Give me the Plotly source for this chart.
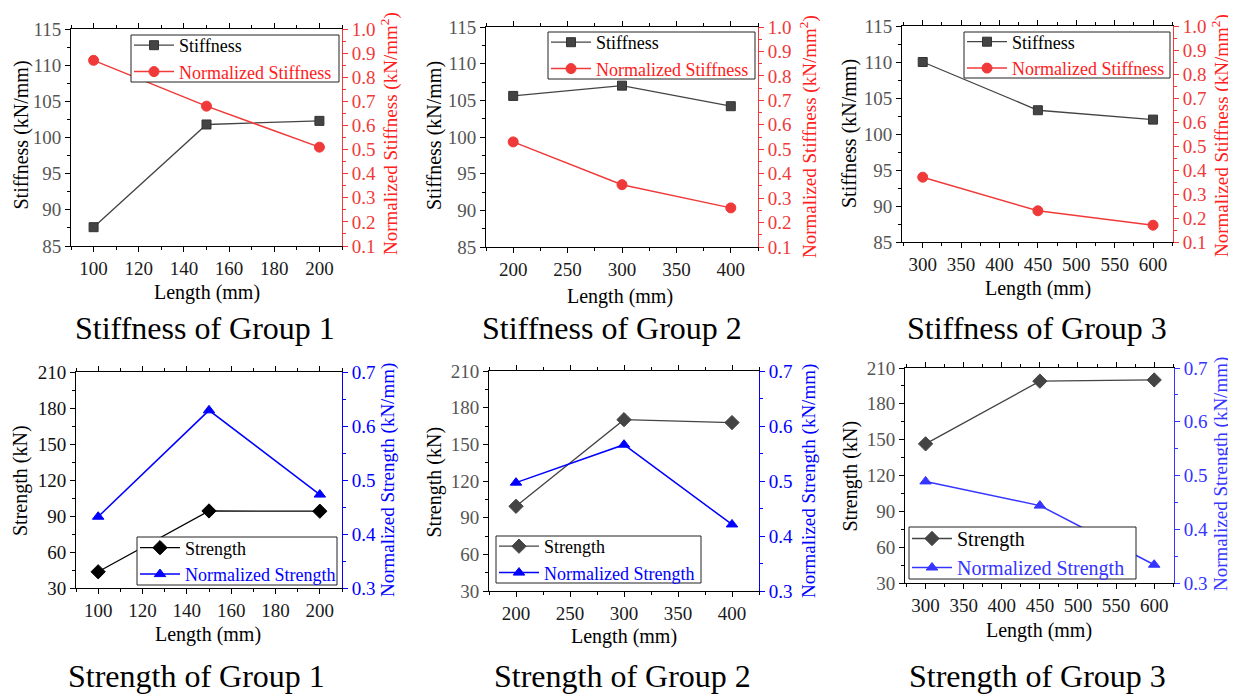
import plotly.graph_objects as go

# The page body has an 8 px margin, so the figure is drawn 8 px in from the
# top-left corner; positions below are given in screenshot pixels.
OFF = 8
W, H = 1236 - OFF, 694 - OFF

# ---------------- data ----------------
len_g1 = [100, 150, 200]
len_g2 = [200, 300, 400]
len_g3 = [300, 450, 600]

stiff_g1 = [87.6, 101.8, 102.3]
stiff_g2 = [105.6, 107.0, 104.2]
stiff_g3 = [110.0, 103.3, 102.0]
nstiff_g1 = [0.87, 0.68, 0.51]
nstiff_g2 = [0.53, 0.355, 0.26]
nstiff_g3 = [0.37, 0.23, 0.17]

str_g1 = [43.5, 94.2, 94.0]
str_g2 = [99.3, 170.2, 167.8]
str_g3 = [146.5, 199.0, 200.0]
nstr_g1 = [0.432, 0.629, 0.473]
nstr_g2 = [0.497, 0.566, 0.421]
nstr_g3 = [0.489, 0.444, 0.334]

titles = ["Stiffness of Group 1", "Stiffness of Group 2", "Stiffness of Group 3",
          "Strength of Group 1", "Strength of Group 2", "Strength of Group 3"]

FONT = "Liberation Serif"
RED = "#f03a3a"
BLUE = "#0000ff"
BLUE2 = "#3535ff"
DARK = "#444444"


def fx(px):
    return (px - OFF) / W


def fy(py):
    return 1 - (py - OFF) / H


# ---------------- panel styling ----------------
panels = [
    dict(x=len_g1, y1=stiff_g1, y2=nstiff_g1, kind="stiff", box=(71, 342, 29, 246),
         xr=[90, 210], xd=20, leg=(131, 339, 35, 82), legfont=18, lt=(21, 135.5), rt=(390, 134),
         xt=(207, 292), title=(205, 328), c1=DARK, c2=RED, tk1="#555555"),
    dict(x=len_g2, y1=stiff_g2, y2=nstiff_g2, kind="stiff", box=(486, 758, 27, 247),
         xr=[175, 425], xd=50, leg=(548, 755, 32, 79), legfont=18, lt=(435, 136), rt=(808, 137),
         xt=(620, 296), title=(612, 328), c1=DARK, c2=RED, tk1="#555555"),
    dict(x=len_g3, y1=stiff_g3, y2=nstiff_g3, kind="stiff", box=(902, 1173, 26, 242),
         xr=[273, 626], xd=50, leg=(964, 1170, 32, 78), legfont=18, lt=(850, 134), rt=(1221, 136),
         xt=(1038, 288), title=(1037, 328), c1=DARK, c2=RED, tk1="#555555"),
    dict(x=len_g1, y1=str_g1, y2=nstr_g1, kind="str", box=(76, 342, 372, 588),
         xr=[90, 210], xd=20, leg=(137, 337, 537, 585), legfont=18, lt=(21, 481), rt=(388, 480),
         xt=(208, 634), title=(196, 676), c1="#000000", c2=BLUE, tk1="#111111"),
    dict(x=len_g2, y1=str_g2, y2=nstr_g2, kind="str", box=(489, 759, 371, 591),
         xr=[175, 425], xd=50, leg=(496, 701, 536, 583), legfont=18, lt=(433.5, 482), rt=(809, 481),
         xt=(624, 636), title=(622, 676), c1=DARK, c2=BLUE, tk1="#555555"),
    dict(x=len_g3, y1=str_g3, y2=nstr_g3, kind="str", box=(905, 1174, 368, 583),
         xr=[273, 626], xd=50, leg=(909, 1136, 527, 579), legfont=20, lt=(849.5, 476), rt=(1221, 474),
         xt=(1039, 630), title=(1037, 676), c1=DARK, c2=BLUE2, tk1="#555555"),
]

fig = go.Figure()
layout = dict(width=W, height=H, margin=dict(l=0, r=0, t=0, b=0, pad=0, autoexpand=False),
              paper_bgcolor="white", plot_bgcolor="white", showlegend=True,
              font=dict(family=FONT, color="#000"))
annotations = []
shapes = []

for i, p in enumerate(panels):
    k = i + 1
    xs = "" if k == 1 else str(k)
    yl = "" if k == 1 else str(2 * k - 1)
    yr = str(2 * k)
    legname = "legend" if k == 1 else f"legend{k}"
    l, r, t, b = p["box"]

    if p["kind"] == "stiff":
        n1, n2 = "Stiffness", "Normalized Stiffness"
        m1 = dict(symbol="square", size=9, color=p["c1"], line=dict(color="#333", width=1))
        m2 = dict(symbol="circle", size=10, color=p["c2"], line=dict(color=p["c2"], width=1))
        yr1, yd1, ym1 = [85, 115], 5, 2.5
        yr2, yd2 = [0.1, 1.0], 0.1
        ltitle = "Stiffness (kN/mm)"
        rtitle = "Normalized Stiffness (kN/mm<sup>2</sup>)"
        tcol = "#ff2020"
    else:
        n1, n2 = "Strength", "Normalized Strength"
        m1 = dict(symbol="diamond", size=11, color=p["c1"], line=dict(color=p["c1"], width=1))
        m2 = dict(symbol="triangle-up", size=10, color=p["c2"], line=dict(color=p["c2"], width=1))
        yr1, yd1, ym1 = [30, 210], 30, 15
        yr2, yd2 = [0.3, 0.7], 0.1
        ltitle = "Strength (kN)"
        rtitle = "Normalized Strength (kN/mm)"
        tcol = p["c2"]

    fig.add_trace(go.Scatter(
        x=p["x"], y=p["y1"], mode="lines+markers", name=n1,
        line=dict(color=p["c1"], width=1.3), marker=m1,
        xaxis="x" + xs, yaxis="y" + yl, legend=legname))
    fig.add_trace(go.Scatter(
        x=p["x"], y=p["y2"], mode="lines+markers",
        name=f"<span style='color:{tcol}'>{n2}</span>",
        line=dict(color=p["c2"], width=1.5), marker=m2,
        xaxis="x" + xs, yaxis="y" + yr, legend=legname))

    layout["xaxis" + xs] = dict(
        domain=[fx(l), fx(r)], anchor="y" + yl, range=p["xr"], dtick=p["xd"], tick0=0,
        showline=True, linecolor="#000", linewidth=1, mirror="ticks", automargin=False,
        ticks="outside", ticklen=5, tickcolor="#000", showgrid=False, zeroline=False,
        tickfont=dict(family=FONT, size=19, color="#1a1a1a"),
        minor=dict(ticks="outside", ticklen=3, dtick=p["xd"] / 2, tickcolor="#000", showgrid=False))
    layout["yaxis" + yl] = dict(
        domain=[fy(b), fy(t)], anchor="x" + xs, range=yr1, dtick=yd1, tick0=0, automargin=False,
        showline=True, linecolor="#000", linewidth=1,
        ticks="outside", ticklen=5, tickcolor="#000", showgrid=False, zeroline=False,
        tickfont=dict(family=FONT, size=19, color=p["tk1"]),
        minor=dict(ticks="outside", ticklen=3, dtick=ym1, tickcolor="#000", showgrid=False))
    layout["yaxis" + yr] = dict(
        overlaying="y" + yl, anchor="x" + xs, side="right", range=yr2, dtick=yd2, tick0=0,
        tickformat=".1f", showline=True, linecolor=p["c2"], linewidth=1, automargin=False,
        ticks="outside", ticklen=5, tickcolor=p["c2"], showgrid=False, zeroline=False,
        tickfont=dict(family=FONT, size=19, color=p["c2"]),
        minor=dict(ticks="outside", ticklen=3, dtick=0.05, tickcolor=p["c2"], showgrid=False))

    ll, lr, lt_, lb = p["leg"]
    shapes.append(dict(type="rect", xref="paper", yref="paper", x0=fx(ll), x1=fx(lr),
                       y0=fy(lb), y1=fy(lt_), line=dict(color="#222", width=1),
                       fillcolor="white", layer="above"))
    layout[legname] = dict(
        x=fx(ll - 2), y=fy((lt_ + lb) / 2), xanchor="left", yanchor="middle",
        bgcolor="rgba(0,0,0,0)", borderwidth=0,
        font=dict(family=FONT, size=p["legfont"], color="#000"),
        itemwidth=40, tracegroupgap=0, orientation="v")

    annotations.append(dict(text=ltitle, x=fx(p["lt"][0]), y=fy(p["lt"][1]), xref="paper", yref="paper",
                            textangle=-90, showarrow=False, xanchor="center", yanchor="middle",
                            font=dict(family=FONT, size=20, color="#000")))
    annotations.append(dict(text=rtitle, x=fx(p["rt"][0]), y=fy(p["rt"][1]), xref="paper", yref="paper",
                            textangle=-90, showarrow=False, xanchor="center", yanchor="middle",
                            font=dict(family=FONT, size=19, color=tcol)))
    annotations.append(dict(text="Length (mm)", x=fx(p["xt"][0]), y=fy(p["xt"][1]), xref="paper", yref="paper",
                            showarrow=False, xanchor="center", yanchor="middle",
                            font=dict(family=FONT, size=20, color="#000")))
    annotations.append(dict(text=titles[i], x=fx(p["title"][0]), y=fy(p["title"][1]), xref="paper",
                            yref="paper", showarrow=False, xanchor="center", yanchor="middle",
                            font=dict(family=FONT, size=32, color="#000")))

layout["annotations"] = annotations
layout["shapes"] = shapes
fig.update_layout(**layout)
fig.write_html("out.html")
